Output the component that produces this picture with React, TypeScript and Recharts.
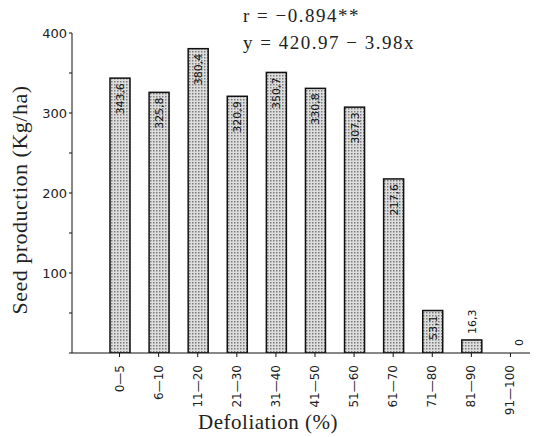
import { Bar, BarChart, LabelList, XAxis, YAxis, Label } from "recharts";

const categories = ["0—5", "6—10", "11—20", "21—30", "31—40", "41—50", "51—60", "61—70", "71—80", "81—90", "91—100"];
const seedProduction = [343.6, 325.8, 380.4, 320.9, 350.7, 330.8, 307.3, 217.6, 53.1, 16.3, 0];
const yTicks = [0, 50, 100, 150, 200, 250, 300, 350, 400];

const SERIF = "'Liberation Serif', 'DejaVu Serif', serif";
const SANS = "'DejaVu Sans', 'Liberation Sans', sans-serif";

const data = categories.map((c, i) => ({ cat: c, value: seedProduction[i] }));

function CatTick(props: any) {
  const { x, y, payload } = props;
  return (
    <text
      x={x + 4}
      y={y + 6}
      transform={`rotate(-90 ${x + 4} ${y + 6})`}
      textAnchor="end"
      fontFamily={SANS}
      fontSize={12}
      fill="#222"
    >
      {payload.value}
    </text>
  );
}

function ValueLabel(props: any) {
  const { x, y, width, value } = props;
  const cx = x + width / 2 + 4;
  const small = value < 30;
  const ty = small ? y - 6 : y + 5;
  const lx = value === 0 ? cx + 8 : cx;
  const txt = value === 0 ? "0" : String(value).replace(".", ",");
  return (
    <text
      x={lx}
      y={ty}
      transform={`rotate(-90 ${lx} ${ty})`}
      textAnchor={small ? "start" : "end"}
      fontFamily={SANS}
      fontSize={11}
      fill="#111"
    >
      {txt}
    </text>
  );
}

function BarShape(props: any) {
  const { x, y, width, height, payload } = props;
  if (!payload || payload.value === 0) return <g />;
  return <rect x={x} y={y} width={width} height={height} fill="url(#dots)" stroke="#111" strokeWidth={1.5} />;
}

export default function App() {
  return (
    <div style={{ position: "absolute", left: 0, top: 0, background: "#fff" }}>
      <BarChart
        width={538}
        height={437}
        data={data}
        margin={{ top: 33, right: 8, bottom: 0, left: 32 }}
        barCategoryGap={0}
      >
        <defs>
          <pattern id="dots" width="3" height="3" patternUnits="userSpaceOnUse">
            <rect width="3" height="3" fill="#dedede" />
            <rect x="0" y="0" width="1.5" height="1.5" fill="#7a7a7a" />
          </pattern>
        </defs>
        <XAxis
          dataKey="cat"
          height={84}
          padding={{ left: 28, right: 0 }}
          tick={<CatTick />}
          tickSize={4}
          stroke="#111"
          interval={0}
        >
          <Label
            content={() => (
              <text x={268} y={429} textAnchor="middle" fontFamily={SERIF} fontSize={21} letterSpacing={0.5} fill="#222">
                Defoliation (%)
              </text>
            )}
          />
        </XAxis>
        <YAxis
          width={40}
          domain={[0, 400]}
          ticks={yTicks}
          tickFormatter={(v: number) => (v % 100 === 0 && v > 0 ? String(v) : "")}
          tick={{ fontFamily: SANS, fontSize: 13, fill: "#222" }}
          tickSize={3}
          stroke="#111"
          allowDataOverflow
        >
          <Label
            content={() => (
              <text
                x={27}
                y={200}
                transform="rotate(-90 27 200)"
                textAnchor="middle"
                fontFamily={SERIF}
                fontSize={22}
                letterSpacing={0.5}
                fill="#222"
              >
                Seed production (Kg/ha)
              </text>
            )}
          />
        </YAxis>
        <Bar dataKey="value" barSize={20} minPointSize={1} shape={<BarShape />} isAnimationActive={false}>
          <LabelList dataKey="value" content={<ValueLabel />} />
        </Bar>
        <text x={243} y={22} fontFamily={SERIF} fontSize={19} letterSpacing={1.5} fill="#222">
          r = −0.894**
        </text>
        <text x={243} y={49} fontFamily={SERIF} fontSize={19} letterSpacing={1.5} fill="#222">
          y = 420.97 − 3.98x
        </text>
      </BarChart>
    </div>
  );
}
